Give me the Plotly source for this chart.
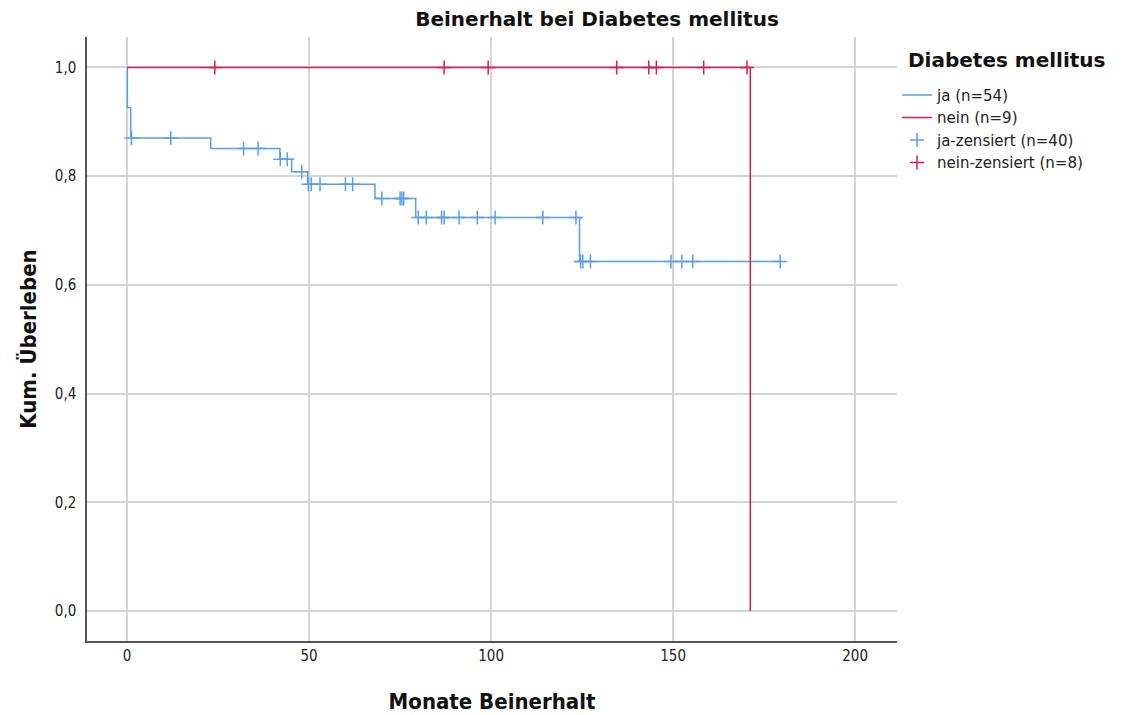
import plotly.graph_objects as go

# ---- data ----
ja_event_times = [0.1, 1.0, 23.0, 42.0, 45.2, 49.6, 68.1, 79.3, 124.3]
ja_event_surv = [0.926, 0.870, 0.851, 0.831, 0.808, 0.785, 0.759, 0.724, 0.643]
ja_end_time = 179.4
ja_censor_times = [1.2, 12, 32, 36, 42.1, 44, 48, 49.8, 50.6, 53, 60, 62, 70, 75,
                   75.5, 76, 80, 82.2, 86.4, 87.1, 91.2, 96.2, 101.1, 114.2, 123.3,
                   124.6, 125.2, 127.3, 149.4, 152.4, 155.4, 179.4]

nein_event_times = [171.2]
nein_event_surv = [0.0]
nein_end_time = 171.2
nein_censor_times = [24.1, 87.1, 99.2, 134.5, 143.3, 145.4, 158.4, 170.3]

x_ticks = [0, 50, 100, 150, 200]
y_ticks = [0.0, 0.2, 0.4, 0.6, 0.8, 1.0]
y_tick_labels = ["0,0", "0,2", "0,4", "0,6", "0,8", "1,0"]

BLUE = "#5c9de8"
RED = "#d41f4f"


def step_xy(times, surv, end):
    xs, ys = [0.0], [1.0]
    for t, s in zip(times, surv):
        xs += [t, t]
        ys += [ys[-1], s]
    if end > xs[-1]:
        xs.append(end)
        ys.append(ys[-1])
    return xs, ys


def surv_at(t, times, surv):
    s = 1.0
    for et, es in zip(times, surv):
        if et <= t:
            s = es
    return s


fig = go.Figure()
jx, jy = step_xy(ja_event_times, ja_event_surv, ja_end_time)
nx, ny = step_xy(nein_event_times, nein_event_surv, nein_end_time)

fig.add_trace(go.Scatter(x=jx, y=jy, mode="lines", name="ja (n=54)",
                         line=dict(color=BLUE, width=1.5)))
fig.add_trace(go.Scatter(x=nx, y=ny, mode="lines", name="nein (n=9)",
                         line=dict(color=RED, width=1.5)))
fig.add_trace(go.Scatter(x=ja_censor_times,
                         y=[surv_at(t, ja_event_times, ja_event_surv) for t in ja_censor_times],
                         mode="markers", name="ja-zensiert (n=40)",
                         marker=dict(symbol="cross-thin", size=10,
                                     line=dict(color=BLUE, width=1.5), color=BLUE)))
fig.add_trace(go.Scatter(x=nein_censor_times,
                         y=[surv_at(t, nein_event_times, nein_event_surv) for t in nein_censor_times],
                         mode="markers", name="nein-zensiert (n=8)",
                         marker=dict(symbol="cross-thin", size=10,
                                     line=dict(color=RED, width=1.5), color=RED)))

axis_font = "DejaVu Sans Condensed, Liberation Sans Narrow, sans-serif"
main_font = "DejaVu Sans, Verdana, sans-serif"

W, H = 1115, 707
L, R, T, B = 79, 226, 29, 74
fig.update_layout(
    width=W, height=H,
    margin=dict(l=L, r=R, t=T, b=B, autoexpand=False),
    paper_bgcolor="white", plot_bgcolor="white",
    title=dict(text="<b>Beinerhalt bei Diabetes mellitus</b>", x=589 / W, xref="container",
               xanchor="center", y=1 - 11 / H, yanchor="middle",
               font=dict(family=main_font, size=20, color="#111")),
    xaxis=dict(range=[-11, 211.5], tickvals=x_ticks, showgrid=True, automargin=False,
               gridcolor="#d4d4d4", gridwidth=2, zeroline=False,
               showline=True, linecolor="#555", linewidth=1.5, ticks="",
               tickfont=dict(family=axis_font, size=15, color="#222"),
               title=dict(text="<b>Monate Beinerhalt</b>", standoff=30,
                          font=dict(family=axis_font, size=22, color="#111"))),
    yaxis=dict(range=[-0.055, 1.056], tickvals=y_ticks, ticktext=y_tick_labels,
               showgrid=True, automargin=False,
               gridcolor="#d4d4d4", gridwidth=2, zeroline=False,
               showline=True, linecolor="#555", linewidth=1.5, ticks="",
               ticklabelstandoff=6,
               tickfont=dict(family=axis_font, size=15, color="#222"),
               title=dict(text="<b>Kum. Überleben</b>", standoff=12,
                          font=dict(family=axis_font, size=22, color="#111"))),
    legend=dict(x=1.0, xanchor="left", y=0.931, yanchor="top",
                font=dict(family=main_font, size=15, color="#222"),
                itemwidth=30, tracegroupgap=0, bgcolor="rgba(0,0,0,0)"),
    showlegend=True,
)
fig.add_annotation(text="<b>Diabetes mellitus</b>", xref="paper", yref="paper",
                   x=(906 - 8 - L) / (W - L - R), y=1 - (60 - 8 - T) / (H - T - B),
                   xanchor="left", yanchor="middle", showarrow=False,
                   font=dict(family=main_font, size=20, color="#111"))

fig.write_html("out.html")
